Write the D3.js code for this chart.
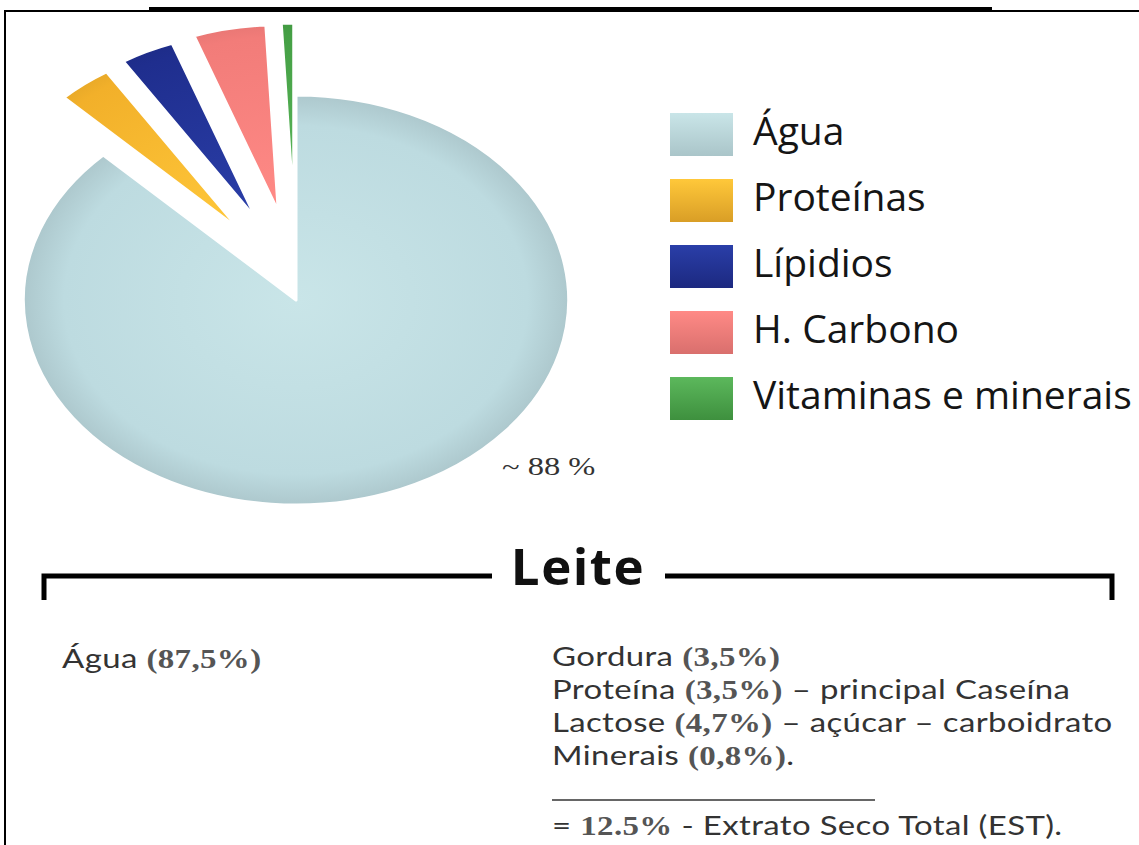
<!DOCTYPE html>
<html>
<head>
<meta charset="utf-8">
<script src="https://cdn.jsdelivr.net/npm/d3@7"></script>
<style>
  body { margin: 0; background: #fff; }
  svg { display: block; }
</style>
</head>
<body>
<div id="chart"></div>
<script>
const categories = ["Água", "Proteínas", "Lípidios", "H. Carbono", "Vitaminas e minerais"];
const values = [87.5, 3.5, 3.5, 4.7, 0.8];
const colors = ["#bddbe0", "#f2b02a", "#1f2e8e", "#f27c79", "#45a045"];
const lightColors = ["#c9e5e8", "#ffc83a", "#2a3ea8", "#ff8a86", "#5cb85c"];
const pieLabel = "~ 88 %";
const title = "Leite";
const leftNote = [["Água ", "(87,5%)", ""]];
const rightNotes = [
  ["Gordura ", "(3,5%)", ""],
  ["Proteína ", "(3,5%)", " – principal Caseína"],
  ["Lactose ", "(4,7%)", " – açúcar – carboidrato"],
  ["Minerais ", "(0,8%)", "."]
];
const totalNote = ["= ", "12.5%", " - Extrato Seco Total (EST)."];

const W = 1139, H = 845;
const svg = d3.select("#chart").append("svg")
    .attr("width", W)
    .attr("height", H);

const defs = svg.append("defs");
categories.forEach((c, i) => {
  const g = defs.append("radialGradient").attr("id", "grad" + i)
      .attr("gradientUnits", "userSpaceOnUse")
      .attr("cx", 0).attr("cy", 0).attr("r", 205);
  g.append("stop").attr("offset", "0%").attr("stop-color", lightColors[i]);
  g.append("stop").attr("offset", "85%").attr("stop-color", colors[i]);
  g.append("stop").attr("offset", "100%").attr("stop-color", d3.color(colors[i]).darker(0.25));
  const lg = defs.append("linearGradient").attr("id", "lgrad" + i)
      .attr("x1", 0).attr("y1", 0).attr("x2", 0).attr("y2", 1);
  lg.append("stop").attr("offset", "0%").attr("stop-color", lightColors[i]);
  lg.append("stop").attr("offset", "100%").attr("stop-color", d3.color(colors[i]).darker(0.3));
});

// frame
svg.append("line").attr("x1", 5).attr("x2", W).attr("y1", 11).attr("y2", 11)
    .attr("stroke", "#000").attr("stroke-width", 2);
svg.append("line").attr("x1", 149).attr("x2", 992).attr("y1", 9).attr("y2", 9)
    .attr("stroke", "#000").attr("stroke-width", 4);
svg.append("line").attr("x1", 5).attr("x2", 5).attr("y1", 10).attr("y2", H)
    .attr("stroke", "#000").attr("stroke-width", 2);

// pie (stretched horizontally), small slices pulled out
const cx = 296, cy = 300, rMain = 205, rSmall = 187, explode = 90, sx = 1.33;
const pie = d3.pie().sort(null).value(d => d);
const arcs = pie(values);
const arcMain = d3.arc().innerRadius(0).outerRadius(rMain);
const arcSmall = d3.arc().innerRadius(0).outerRadius(rSmall);

svg.append("g").selectAll("path")
  .data(arcs)
  .enter()
  .append("path")
    .attr("d", (d, i) => i === 0 ? arcMain(d) : arcSmall(d))
    .attr("transform", (d, i) => {
      const mid = (d.startAngle + d.endAngle) / 2;
      const k = i === 0 ? 0 : explode;
      return `translate(${cx + Math.sin(mid) * k},${cy - Math.cos(mid) * k}) scale(${sx},1)`;
    })
    .attr("fill", (d, i) => `url(#grad${i})`)
    .attr("stroke", "#fff")
    .attr("stroke-width", 3)
    .attr("vector-effect", "non-scaling-stroke")
    .attr("stroke-linejoin", "round");

svg.append("text")
    .attr("transform", "translate(502,475) scale(1.3,1)")
    .attr("font-family", "Liberation Serif, serif")
    .attr("font-size", 25)
    .attr("fill", "#333")
    .text(pieLabel);

// legend
const legend = svg.append("g").attr("transform", "translate(670,113)");
const ly = d3.scaleBand().domain(categories).range([0, 330]);
const li = legend.selectAll("g").data(categories).enter().append("g")
    .attr("transform", d => `translate(0,${ly(d)})`);
li.append("rect")
    .attr("width", 63).attr("height", 43)
    .attr("fill", (d, i) => `url(#lgrad${i})`);
li.append("text")
    .attr("x", 83).attr("y", 32)
    .attr("font-family", "Open Sans, sans-serif")
    .attr("font-size", 39)
    .attr("fill", "#151515")
    .text(d => d);

// bracket with title
const by = 576;
svg.append("path")
    .attr("d", `M44,${by + 24}V${by}H492 M665,${by}H1112V${by + 24}`)
    .attr("fill", "none").attr("stroke", "#000").attr("stroke-width", 5);
svg.append("text")
    .attr("x", 578).attr("y", 585)
    .attr("text-anchor", "middle")
    .attr("font-family", "Open Sans, sans-serif")
    .attr("font-weight", "bold")
    .attr("font-size", 51)
    .attr("letter-spacing", 1.5)
    .attr("fill", "#111")
    .text(title);

// notes below (source picture is stretched sideways, so stretch text too)
function note(x, y, parts) {
  const t = svg.append("text")
      .attr("transform", `translate(${x},${y}) scale(1.22,1)`)
      .attr("font-family", "Lato, sans-serif")
      .attr("font-size", 27)
      .attr("fill", "#333")
      .attr("letter-spacing", 0.3);
  t.append("tspan").text(parts[0]);
  t.append("tspan").attr("font-family", "Liberation Serif, serif")
      .attr("font-weight", "bold").attr("fill", "#555").text(parts[1]);
  t.append("tspan").text(parts[2]);
}

leftNote.forEach(p => note(62, 668, p));

const ny = d3.scaleLinear().domain([0, 3]).range([666, 765]);
rightNotes.forEach((p, i) => note(552, ny(i), p));
svg.append("line").attr("x1", 552).attr("x2", 875).attr("y1", 800).attr("y2", 800)
    .attr("stroke", "#333").attr("stroke-width", 1.5);
note(552, 835, totalNote);
</script>
</body>
</html>
